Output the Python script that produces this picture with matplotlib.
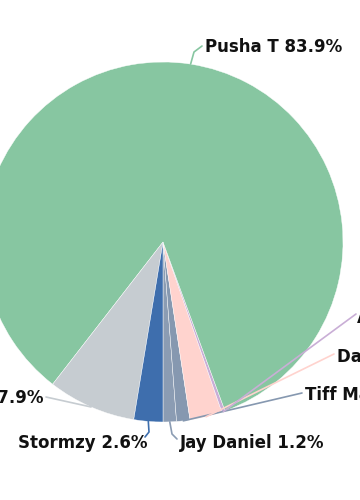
import numpy as np
import matplotlib.pyplot as plt

# slices, counter-clockwise from straight down
names = ["Jay Daniel", "Tiff Mac", "Dave", "AJ Tracey", "Pusha T", "Others", "Stormzy"]
shares = [1.2, 1.2, 2.9, 0.3, 83.9, 7.9, 2.6]
colors = ["#8b9cb3", "#8698b0", "#ffd3ce", "#c9aed6", "#87c6a1", "#c6ccd1", "#3e6ead"]

# label layout in pixels relative to pie centre: text x, text y, alignment, elbow point, line end
layout = {
    "Jay Daniel": (17, -201, "left", (9, -192), (14, -197)),
    "Tiff Mac": (142, -153, "left", None, (139, -151)),
    "Dave": (174, -115, "left", None, (171, -112)),
    "AJ Tracey": (194, -76, "left", None, (193, -72)),
    "Pusha T": (42, 195, "left", (31, 190), (39, 196)),
    "Others": (-120, -156, "right", None, (-117, -155)),
    "Stormzy": (-15, -201, "right", (-14, -190), (-18, -195)),
}

R = 180
fig = plt.figure(figsize=(3.6, 5), dpi=100)
ax = fig.add_axes([0, 0, 1, 1])
wedges, _ = ax.pie(shares, colors=colors, radius=R, startangle=-90, counterclock=True,
                   wedgeprops=dict(linewidth=0.3, edgecolor="white"))
ax.set_xlim(-163, 197)
ax.set_ylim(-258, 242)
ax.set_aspect("equal")
ax.axis("off")

for w, name, share in zip(wedges, names, shares):
    mid = np.deg2rad((w.theta1 + w.theta2) / 2)
    ax0, ay0 = R * np.cos(mid), R * np.sin(mid)
    tx, ty, ha, elbow, end = layout[name]
    xs = [ax0] + ([elbow[0]] if elbow else []) + [end[0]]
    ys = [ay0] + ([elbow[1]] if elbow else []) + [end[1]]
    ax.plot(xs, ys, color=w.get_facecolor(), lw=1.2, solid_capstyle="round")
    ax.text(tx, ty, f"{name} {share}%", ha=ha, va="center", fontsize=12,
            fontweight="bold", family=["DejaVu Sans"], color="#111111")

fig.savefig("out.png", dpi=100)
